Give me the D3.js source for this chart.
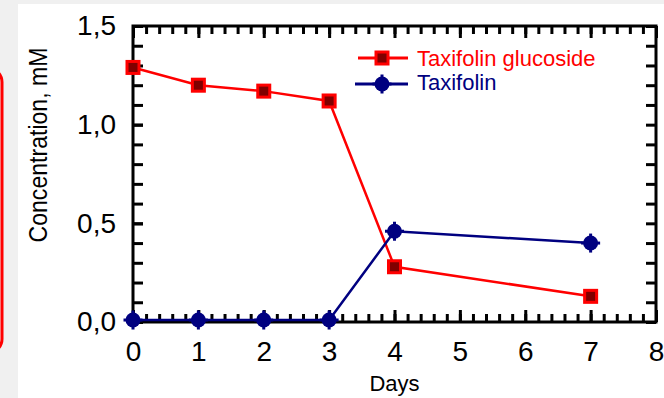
<!DOCTYPE html>
<html>
<head>
<meta charset="utf-8">
<script src="https://cdn.jsdelivr.net/npm/d3@7"></script>
<style>
  html, body { margin: 0; padding: 0; background: #f0f0f0; }
  svg { display: block; }
  text { font-family: "Liberation Sans", Arial, sans-serif; }
</style>
</head>
<body>
<svg id="chart" width="664" height="398"></svg>
<script>
// values
const days = [0, 1, 2, 3, 4, 7];
const glucoside = [1.29, 1.20, 1.17, 1.12, 0.28, 0.13];
const taxifolin = [0.01, 0.01, 0.01, 0.01, 0.46, 0.40];
const xTicks = [0, 1, 2, 3, 4, 5, 6, 7, 8];
const yTicks = [0, 0.5, 1.0, 1.5];
const seriesNames = ['Taxifolin glucoside', 'Taxifolin'];

const svg = d3.select('#chart');

// page background: white panel with grey strip, red box edge at left
svg.append('rect').attr('x', 0).attr('y', 0).attr('width', 664).attr('height', 398).attr('fill', '#f0f0f0');
svg.append('rect').attr('x', 18).attr('y', 4).attr('width', 646).attr('height', 394).attr('fill', '#fff');
svg.append('rect').attr('x', -40).attr('y', 68).attr('width', 42).attr('height', 285)
  .attr('rx', 14).attr('fill', 'none').attr('stroke', '#ff0000').attr('stroke-width', 3);

const x = d3.scaleLinear().domain([0, 8]).range([133, 656]);
const y = d3.scaleLinear().domain([0, 1.5]).range([322, 26]);

const fmt = d => d3.format('.1f')(d).replace('.', ',');

function styleAxis(g, size) {
  g.select('.domain').remove();
  g.selectAll('.tick line').attr('stroke', '#000').attr('stroke-width', 3);
  g.selectAll('.tick text').attr('fill', '#000').style('font-size', size + 'px');
}

// bottom axis
svg.append('g').attr('transform', 'translate(0,322)')
  .call(d3.axisBottom(x).tickValues(d3.range(0, 8.01, 0.2)).tickSize(-8).tickFormat(''))
  .call(g => styleAxis(g, 28));
svg.append('g').attr('transform', 'translate(0,322)')
  .call(d3.axisBottom(x).tickValues(xTicks).tickSize(-12).tickPadding(19))
  .call(g => styleAxis(g, 28));

// top axis
svg.append('g').attr('transform', 'translate(0,26)')
  .call(d3.axisTop(x).tickValues(d3.range(0, 8.01, 0.2)).tickSize(-8).tickFormat(''))
  .call(g => styleAxis(g, 28));
svg.append('g').attr('transform', 'translate(0,26)')
  .call(d3.axisTop(x).tickValues(xTicks).tickSize(-12).tickFormat(''))
  .call(g => styleAxis(g, 28));

// left axis
svg.append('g').attr('transform', 'translate(133,0)')
  .call(d3.axisLeft(y).tickValues(d3.range(0, 1.51, 0.1)).tickSize(-10).tickFormat(''))
  .call(g => styleAxis(g, 28));
svg.append('g').attr('transform', 'translate(133,0)')
  .call(d3.axisLeft(y).tickValues(yTicks).tickSize(-10).tickPadding(17).tickFormat(fmt))
  .call(g => styleAxis(g, 28));

// right axis
svg.append('g').attr('transform', 'translate(656,0)')
  .call(d3.axisRight(y).tickValues(d3.range(0, 1.51, 0.1)).tickSize(-10).tickFormat(''))
  .call(g => styleAxis(g, 28));

// frame
svg.append('rect').attr('x', x(0)).attr('y', y(1.5))
  .attr('width', x(8) - x(0)).attr('height', y(0) - y(1.5))
  .attr('fill', 'none').attr('stroke', '#000').attr('stroke-width', 3);

// axis titles
svg.append('text').attr('x', (x(0) + x(8)) / 2).attr('y', 391)
  .attr('text-anchor', 'middle').style('font-size', '22px').text('Days');
svg.append('text')
  .attr('transform', 'translate(47,145) rotate(-90)')
  .attr('text-anchor', 'middle').style('font-size', '26px')
  .attr('textLength', 195).attr('lengthAdjust', 'spacingAndGlyphs')
  .text('Concentration, mM');

// series
const line = d3.line().x(d => x(d[0])).y(d => y(d[1]));
const gluPts = days.map((d, i) => [d, glucoside[i]]);
const taxPts = days.map((d, i) => [d, taxifolin[i]]);

function squareMarker(g, cx, cy) {
  g.append('rect').attr('x', cx - 6).attr('y', cy - 6).attr('width', 12).attr('height', 12)
    .attr('fill', '#800000').attr('stroke', '#ff0000').attr('stroke-width', 3);
}
function roundMarker(g, cx, cy) {
  g.append('circle').attr('cx', cx).attr('cy', cy).attr('r', 7.5).attr('fill', '#000080');
  g.append('rect').attr('x', cx - 9.5).attr('y', cy - 1.5).attr('width', 19).attr('height', 3).attr('fill', '#000080');
  g.append('rect').attr('x', cx - 1.5).attr('y', cy - 9.5).attr('width', 3).attr('height', 19).attr('fill', '#000080');
}

const marks = svg.append('g');
marks.append('path').datum(gluPts).attr('d', line)
  .attr('fill', 'none').attr('stroke', '#ff0000').attr('stroke-width', 2.5);
marks.append('path').datum(taxPts).attr('d', line)
  .attr('fill', 'none').attr('stroke', '#000080').attr('stroke-width', 2.5);
gluPts.forEach(p => squareMarker(marks, x(p[0]), y(p[1])));
taxPts.forEach(p => roundMarker(marks, x(p[0]), y(p[1])));

// legend
const legend = svg.append('g');
legend.append('line').attr('x1', 358).attr('x2', 408).attr('y1', 58).attr('y2', 58)
  .attr('stroke', '#ff0000').attr('stroke-width', 3);
squareMarker(legend, 382, 58);
legend.append('text').attr('x', 417).attr('y', 66).attr('fill', '#ff0000')
  .style('font-size', '22px').text(seriesNames[0]);
legend.append('line').attr('x1', 355).attr('x2', 408).attr('y1', 84).attr('y2', 84)
  .attr('stroke', '#000080').attr('stroke-width', 3);
roundMarker(legend, 382, 84);
legend.append('text').attr('x', 417).attr('y', 90).attr('fill', '#000080')
  .style('font-size', '22px').text(seriesNames[1]);
</script>
</body>
</html>
